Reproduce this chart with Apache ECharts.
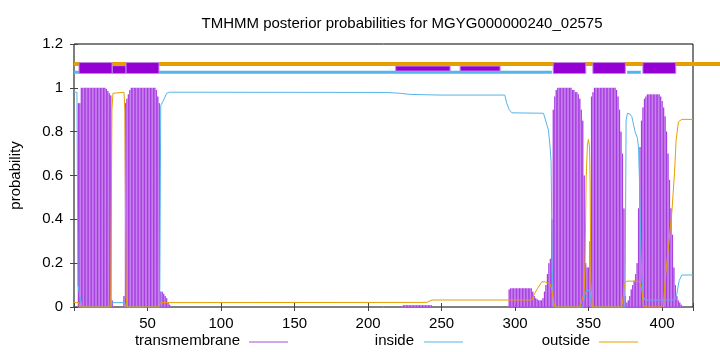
<!DOCTYPE html>
<html>
<head>
<meta charset="utf-8">
<script src="https://cdn.jsdelivr.net/npm/echarts/dist/echarts.min.js"></script>
<style>
html, body { margin: 0; padding: 0; background: #fff; }
#main { width: 720px; height: 352px; }
</style>
</head>
<body>
<div id="main"></div>
<script>
// posterior probabilities
var seqLength = 421;
var xTicks = [50, 100, 150, 200, 250, 300, 350, 400];

// transmembrane probability, one value per residue, in runs
var tm1Start = 3;
var tm1 = [0.93, 0.93, 1, 1, 1, 1, 1, 1, 1, 1, 1, 1, 1, 1, 1, 1, 1, 1, 1,
    0.995, 0.985, 0.975, 0.965, 0.03];
var tm2Start = 34;
var tm2 = [0.05, 0.93, 0.95, 0.97, 0.99, 1, 1, 1, 1, 1, 1, 1, 1, 1, 1, 1, 1, 1, 1, 1, 1, 1,
    0.99, 0.96, 0.93, 0.07, 0.07, 0.06, 0.05, 0.04, 0.02, 0.01];
var tmLowStart = 224;
var tmLow = [0.008, 0.008, 0.008, 0.008, 0.008, 0.008, 0.008, 0.008, 0.008, 0.008,
    0.008, 0.008, 0.008, 0.008, 0.008, 0.008, 0.008, 0.008, 0.008, 0.008];
var tm3Start = 296;
var tm3 = [0.08, 0.085, 0.085, 0.085, 0.085, 0.085, 0.085, 0.085, 0.085, 0.085, 0.085,
    0.085, 0.085, 0.085, 0.085, 0.085, 0.07, 0.05, 0.04, 0.035, 0.03, 0.03, 0.03, 0.04,
    0.07, 0.1, 0.15, 0.2, 0.22, 0.4, 0.9, 0.96, 0.99, 1, 1, 1, 1, 1, 1, 1, 1, 1, 1,
    0.99, 0.99, 0.98, 0.98, 0.97, 0.95, 0.9, 0.85, 0.6, 0.2, 0.18, 0.18, 0.3,
    0.96, 0.98, 1, 1, 1, 1, 1, 1, 1, 1, 1, 1, 1, 1, 1, 1, 1,
    0.99, 0.96, 0.9, 0.8, 0.7, 0.45, 0.05, 0.02, 0.03, 0.05, 0.08, 0.1, 0.12, 0.15, 0.2,
    0.45, 0.73, 0.85, 0.91, 0.95, 0.96, 0.97, 0.97, 0.97, 0.97, 0.97, 0.97, 0.97, 0.97, 0.97,
    0.96, 0.94, 0.91, 0.87, 0.8, 0.7, 0.58, 0.45, 0.33, 0.18, 0.1, 0.05, 0.03, 0.02, 0.01];

// inside / outside curves: [residue, probability]
var insideProb = [[0, 0.98], [2, 0.98], [2.7, 0.1], [4, 0.05], [5.5, 0], [25, 0], [26, 0.02],
    [34.5, 0.02], [35.3, 0], [58.3, 0], [59, 0.92], [61, 0.945], [63, 0.975], [65, 0.98],
    [212, 0.979], [222, 0.975], [229, 0.97], [249, 0.967], [293, 0.967], [294.3, 0.93],
    [296, 0.9], [297.8, 0.886], [319.3, 0.884], [320.4, 0.876], [322.7, 0.807],
    [323.8, 0.73], [324.5, 0.66], [325.2, 0.2], [326, 0], [346, 0], [347.5, 0.06],
    [349, 0.08], [351, 0.07], [352, 0], [374.8, 0], [375.5, 0.853], [376.4, 0.884],
    [378.2, 0.88], [379.4, 0.868], [381.6, 0.8], [383.2, 0.77], [383.9, 0.73],
    [384.6, 0.58], [385.5, 0.275], [386.2, 0.123], [387.3, 0.047], [388.4, 0.032],
    [408.8, 0.032], [410, 0.06], [411.6, 0.12], [413.4, 0.146], [421, 0.146]];
var outsideProb = [[0, 0.02], [3, 0.02], [4, 0], [24.5, 0], [25, 0.03], [25.8, 0.9],
    [26.5, 0.975], [34, 0.98], [34.6, 0.9], [35.4, 0.05], [36, 0], [57.5, 0], [59, 0.02],
    [240, 0.021], [243.5, 0.032], [311.4, 0.032], [312.4, 0.05], [314.8, 0.08],
    [318.2, 0.115], [320.4, 0.115], [323.8, 0.105], [325, 0.08], [326, 0.03], [327.2, 0],
    [344, 0], [345.5, 0.03], [346.9, 0.06], [347.6, 0.2], [348.3, 0.58], [349.2, 0.74],
    [349.9, 0.765], [350.6, 0.73], [351, 0.58], [351.5, 0.12], [352.5, 0], [372.6, 0],
    [373.5, 0.05], [374.4, 0.108], [376, 0.118], [383.9, 0.118], [385, 0.108],
    [386.2, 0.08], [387.3, 0.01], [388, 0], [400.9, 0], [402, 0.12], [404.3, 0.275],
    [406.6, 0.43], [408.4, 0.61], [409.5, 0.76], [411.1, 0.845], [413.4, 0.856], [421, 0.856]];

// predicted topology strips along the top: [from, to]
var outsideStrip = [[0, 440]];
var insideStrip = [[0, 325], [376.2, 385.5]];
var tmBoxes = [[3.4, 25.9], [35.4, 57.8], [325.9, 348.1], [352.9, 375], [386.9, 409.3]];
var tmBoxesMid = [[25.9, 35.4]];
var tmBoxesLow = [[218.8, 255.8], [262.6, 289.8]];

var legendNames = ['transmembrane', 'inside', 'outside'];

var purple = '#9400d3';
var blue = '#56b4e9';
var orange = '#e69f00';
var font = "'Liberation Sans', Arial, sans-serif";

var tmData = [];
[[tm1Start, tm1], [tm2Start, tm2], [tmLowStart, tmLow], [tm3Start, tm3]].forEach(function (run) {
    run[1].forEach(function (v, i) {
        tmData.push([run[0] + i, v]);
    });
});

function impulse(params, api) {
    var top = api.coord([api.value(0), api.value(1)]);
    var base = api.coord([api.value(0), 0]);
    var w = api.size([1, 0])[0];
    return {
        type: 'group',
        children: [{
            type: 'rect',
            shape: { x: top[0] - w / 2, y: top[1], width: w, height: base[1] - top[1] },
            style: { fill: '#cf95ee' }
        }, {
            type: 'line',
            shape: { x1: top[0], y1: top[1], x2: base[0], y2: base[1] },
            style: { stroke: '#a02ee0', lineWidth: 0.9 }
        }]
    };
}

function strip(y, width, color) {
    return function (params, api) {
        var a = api.coord([api.value(0), y]);
        var b = api.coord([api.value(1), y]);
        return {
            type: 'line',
            shape: { x1: a[0], y1: a[1], x2: b[0], y2: b[1] },
            style: { stroke: color, lineWidth: width }
        };
    };
}

function box(y0, y1) {
    return function (params, api) {
        var a = api.coord([api.value(0), y1]);
        var b = api.coord([api.value(1), y0]);
        return {
            type: 'rect',
            shape: { x: a[0], y: a[1], width: b[0] - a[0], height: b[1] - a[1] },
            style: { fill: purple, stroke: '#c48ae6', lineWidth: 1 }
        };
    };
}

var chart = echarts.init(document.getElementById('main'));

var option = {
    animation: false,
    title: {
        text: 'TMHMM posterior probabilities for MGYG000000240_02575',
        left: 397,
        top: 11,
        textAlign: 'center',
        textStyle: { fontFamily: font, fontSize: 15, fontWeight: 'normal', color: '#000' }
    },
    grid: { left: 74, right: 27, top: 44, bottom: 45, show: true, borderColor: '#000', borderWidth: 1 },
    xAxis: [{
        type: 'value',
        min: 0,
        max: seqLength,
        interval: 50,
        axisLine: { show: false },
        axisTick: { inside: true, length: 4, lineStyle: { color: '#444' } },
        splitLine: { show: false },
        axisLabel: {
            margin: 9,
            fontFamily: font, fontSize: 15, color: '#000',
            formatter: function (v) { return xTicks.indexOf(v) >= 0 ? String(v) : ''; }
        }
    }, {
        type: 'value',
        position: 'top',
        min: 0,
        max: seqLength,
        interval: 50,
        axisLine: { show: false },
        axisTick: { inside: true, length: 4, lineStyle: { color: '#444' } },
        axisLabel: { show: false },
        splitLine: { show: false }
    }],
    yAxis: [{
        type: 'value',
        min: 0,
        max: 1.2,
        interval: 0.2,
        name: 'probability',
        nameLocation: 'middle',
        nameGap: 51,
        nameRotate: 90,
        nameTextStyle: { fontFamily: font, fontSize: 15, color: '#000' },
        axisLine: { show: false },
        axisTick: { inside: true, length: 4, lineStyle: { color: '#444' } },
        splitLine: { show: false },
        axisLabel: { margin: 11, fontFamily: font, fontSize: 15, color: '#000' }
    }, {
        type: 'value',
        position: 'right',
        min: 0,
        max: 1.2,
        interval: 0.2,
        axisLine: { show: false },
        axisTick: { inside: true, length: 4, lineStyle: { color: '#444' } },
        axisLabel: { show: false },
        splitLine: { show: false }
    }],
    series: [{
        name: 'transmembrane',
        type: 'custom',
        renderItem: impulse,
        encode: { x: 0, y: 1 },
        data: tmData,
        z: 1
    }, {
        name: 'inside',
        type: 'line',
        data: insideProb,
        showSymbol: false,
        lineStyle: { color: blue, width: 1 },
        z: 3
    }, {
        name: 'outside',
        type: 'line',
        data: outsideProb,
        showSymbol: false,
        lineStyle: { color: orange, width: 1 },
        z: 4
    }, {
        type: 'custom',
        renderItem: strip(1.1086, 4, orange),
        encode: { x: [0, 1] },
        data: outsideStrip,
        clip: false,
        z: 5
    }, {
        type: 'custom',
        renderItem: strip(1.071, 3, blue),
        encode: { x: [0, 1] },
        data: insideStrip,
        z: 5
    }, {
        type: 'custom',
        renderItem: box(1.0766, 1.0995),
        encode: { x: [0, 1] },
        data: tmBoxesLow,
        z: 6
    }, {
        type: 'custom',
        renderItem: box(1.065, 1.1012),
        encode: { x: [0, 1] },
        data: tmBoxesMid,
        z: 6
    }, {
        type: 'custom',
        renderItem: box(1.0652, 1.1154),
        encode: { x: [0, 1] },
        data: tmBoxes,
        z: 7
    }],
    graphic: [
        { type: 'text', right: 720 - 240, top: 333, style: { text: legendNames[0], font: '15px ' + font, fill: '#000' } },
        { type: 'line', shape: { x1: 249, y1: 342, x2: 288, y2: 342 }, style: { stroke: '#a64fd9', lineWidth: 1 } },
        { type: 'text', right: 720 - 414, top: 333, style: { text: legendNames[1], font: '15px ' + font, fill: '#000' } },
        { type: 'line', shape: { x1: 424, y1: 342, x2: 463, y2: 342 }, style: { stroke: blue, lineWidth: 1 } },
        { type: 'text', right: 720 - 590, top: 333, style: { text: legendNames[2], font: '15px ' + font, fill: '#000' } },
        { type: 'line', shape: { x1: 599, y1: 342, x2: 638, y2: 342 }, style: { stroke: orange, lineWidth: 1 } }
    ]
};

chart.setOption(option);
</script>
</body>
</html>
